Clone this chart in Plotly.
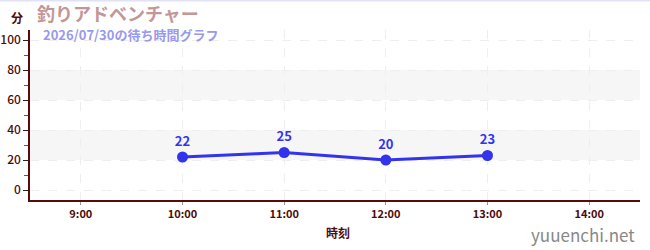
import plotly.graph_objects as go

hours = [10, 11, 12, 13]
wait_minutes = [22, 25, 20, 23]
x_tick_vals = [9, 10, 11, 12, 13, 14]
x_tick_text = ["9:00", "10:00", "11:00", "12:00", "13:00", "14:00"]
y_tick_vals = [0, 20, 40, 60, 80, 100]
title_text = "釣りアドベンチャー"
subtitle_text = "2026/07/30の待ち時間グラフ"
y_unit = "分"
x_title = "時刻"
watermark = "yuuenchi.net"

FONT = "Noto Sans CJK JP"
AXIS = "#5a0a0a"
LABEL = "#4d0a0a"

fig = go.Figure()
fig.add_trace(go.Scatter(
    x=hours, y=wait_minutes, mode="lines+markers+text",
    text=[str(v) for v in wait_minutes], textposition="top center",
    textfont=dict(family=FONT, size=13, color="#3333ee", weight="bold"),
    line=dict(color="#3333ee", width=3),
    marker=dict(color="#3333ee", size=11),
    hoverinfo="skip", cliponaxis=False,
))

for lo, hi in [(20, 40), (60, 80)]:
    fig.add_shape(type="rect", xref="paper", yref="y", x0=0, x1=1, y0=lo, y1=hi,
                  fillcolor="#f6f6f6", line=dict(width=0), layer="below")

fig.add_shape(type="line", xref="paper", yref="paper", x0=-30/610, x1=1+10/610,
              y0=1+30/170-0.003, y1=1+30/170-0.003, line=dict(color="#e2e2f6", width=2))

fig.update_layout(
    width=650, height=250, margin=dict(l=30, r=10, t=30, b=50),
    paper_bgcolor="white", plot_bgcolor="white", showlegend=False,
    font=dict(family=FONT, color=LABEL),
    xaxis=dict(range=[8.5, 14.5], tickvals=x_tick_vals, ticktext=x_tick_text,
               automargin=False,
               showgrid=True, gridcolor="#eeeeee", griddash="dash", gridwidth=1,
               showline=True, linecolor=AXIS, linewidth=1.5, ticks="outside",
               tickcolor="#999", ticklen=3, zeroline=False,
               tickfont=dict(family=FONT, size=11, color=LABEL, weight="bold")),
    yaxis=dict(range=[-6.67, 106.67], tickvals=y_tick_vals, automargin=False,
               showgrid=True, gridcolor="#eeeeee", griddash="dash", gridwidth=1,
               showline=True, linecolor=AXIS, linewidth=1.5, ticks="outside",
               tickcolor="#222", ticklen=5, zeroline=False,
               tickfont=dict(family=FONT, size=12, color=LABEL, weight=500),
               minor=dict(dtick=10, tick0=0, ticks="outside", ticklen=4,
                          tickcolor="#dd2222", showgrid=False)),
    annotations=[
        dict(text=title_text, xref="paper", yref="paper", x=(35-30)/610, y=(200-13)/170,
             xanchor="left", yanchor="middle", showarrow=False,
             font=dict(family=FONT, size=18, color="#c49696", weight="bold")),
        dict(text=subtitle_text, xref="paper", yref="paper", x=(41-30)/610, y=(200-34)/170,
             xanchor="left", yanchor="middle", showarrow=False,
             font=dict(family=FONT, size=13, color="#9999ee", weight="bold")),
        dict(text=y_unit, xref="paper", yref="paper", x=(17-30)/610, y=(200-17)/170,
             xanchor="center", yanchor="middle", showarrow=False,
             font=dict(family=FONT, size=12, color=LABEL, weight="bold")),
        dict(text=x_title, xref="paper", yref="paper", x=(338-30)/610, y=(200-232)/170,
             xanchor="center", yanchor="middle", showarrow=False,
             font=dict(family=FONT, size=12, color=LABEL, weight="bold")),
        dict(text=watermark, xref="paper", yref="paper", x=(637-30)/610, y=(200-234)/170,
             xanchor="right", yanchor="middle", showarrow=False,
             font=dict(family=FONT, size=17, color="#888888")),
    ],
)

fig.write_html("out.html")
